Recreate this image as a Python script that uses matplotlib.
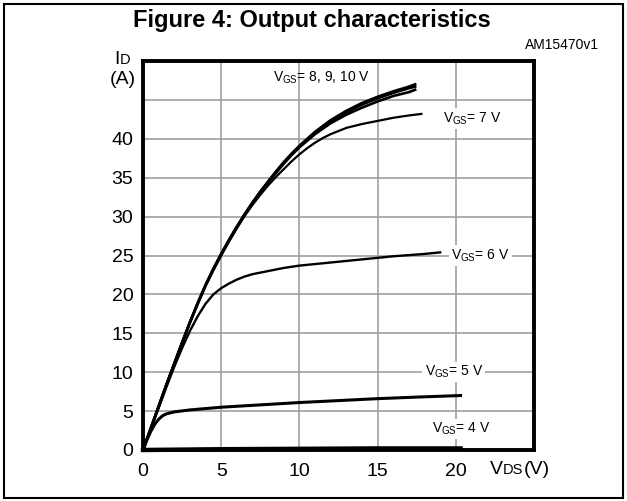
import matplotlib
matplotlib.use("Agg")
import matplotlib.pyplot as plt
from matplotlib.patches import Rectangle
from matplotlib.offsetbox import TextArea, HPacker, AnnotationBbox

plt.rcParams['font.family'] = ['Liberation Sans', 'DejaVu Sans']
plt.rcParams['mathtext.fontset'] = 'custom'
plt.rcParams['mathtext.rm'] = 'Liberation Sans'
plt.rcParams['mathtext.it'] = 'Liberation Sans'

# ---- data ----
vds_hi = [0, 0.5, 1, 1.5, 2, 2.5, 3, 3.5, 4, 4.5, 5, 5.5, 6, 6.5, 7, 7.5, 8, 8.5, 9, 9.5, 10,
          11, 12, 13, 14, 15, 16, 17, 17.4]
id_vgs10 = [0, 2.8, 5.6, 8.4, 11.1, 13.8, 16.4, 18.9, 21.2, 23.3, 25.2, 27.0, 28.7, 30.3, 31.8,
            33.2, 34.5, 35.8, 37.0, 38.1, 39.1, 40.9, 42.4, 43.6, 44.6, 45.4, 46.1, 46.7, 47.0]
id_vgs9 = [0, 2.8, 5.6, 8.4, 11.1, 13.8, 16.4, 18.9, 21.2, 23.3, 25.2, 27.0, 28.7, 30.3, 31.8,
           33.2, 34.5, 35.7, 36.9, 38.0, 39.0, 40.8, 42.2, 43.4, 44.4, 45.2, 45.9, 46.5, 46.7]
id_vgs8 = [0, 2.8, 5.6, 8.4, 11.1, 13.8, 16.4, 18.8, 21.1, 23.2, 25.1, 26.9, 28.6, 30.2, 31.7,
           33.1, 34.4, 35.6, 36.8, 37.9, 38.9, 40.6, 42.0, 43.1, 44.0, 44.8, 45.5, 46.0, 46.3]

vds_7 = [0, 0.5, 1, 1.5, 2, 2.5, 3, 3.5, 4, 4.5, 5, 5.5, 6, 6.5, 7, 7.5, 8, 8.5, 9, 9.5, 10,
         10.5, 11, 11.5, 12, 13, 14, 15, 16, 17, 17.8]
id_vgs7 = [0, 2.8, 5.6, 8.4, 11.1, 13.8, 16.4, 18.8, 21.1, 23.1, 25.0, 26.8, 28.5, 30.1, 31.5,
           32.8, 34.0, 35.1, 36.1, 37.1, 38.0, 38.8, 39.5, 40.1, 40.6, 41.4, 41.9, 42.3, 42.7,
           43.0, 43.2]

vds_6 = [0, 0.5, 1, 1.5, 2, 2.5, 3, 3.5, 4, 4.5, 5, 5.5, 6, 6.5, 7, 8, 9, 10, 12, 14, 16, 18, 19]
id_vgs6 = [0, 2.7, 5.4, 8.1, 10.7, 13.1, 15.3, 17.2, 18.8, 20.0, 20.8, 21.4, 21.9, 22.3, 22.6,
           23.0, 23.4, 23.7, 24.1, 24.5, 24.9, 25.2, 25.4]

vds_5 = [0, 0.25, 0.5, 0.75, 1, 1.25, 1.5, 2, 3, 5, 7.5, 10, 12.5, 15, 17.5, 20.3]
id_vgs5 = [0, 1.3, 2.4, 3.3, 3.95, 4.4, 4.65, 4.9, 5.15, 5.5, 5.8, 6.1, 6.35, 6.6, 6.8, 7.0]

vds_4 = [0, 5, 10, 15, 20.3]
id_vgs4 = [0, 0.1, 0.15, 0.2, 0.2]

xticks = [0, 5, 10, 15, 20]
yticks = [0, 5, 10, 15, 20, 25, 30, 35, 40, 45]
ytick_labels = ['0', '5', '10', '15', '20', '25', '30', '35', '40', '']

W, H = 627, 501
fig = plt.figure(figsize=(W / 100, H / 100), dpi=100)
ax = fig.add_axes([143 / W, 1 - 450 / H, (534 - 143) / W, (450 - 61) / H])

ax.set_xlim(0, 25)
ax.set_ylim(0, 50)
ax.set_xticks(xticks)
ax.set_yticks(yticks)
ax.set_yticklabels(ytick_labels)
ax.grid(True, color='#a0a0a0', linewidth=1.2)
ax.set_axisbelow(True)
ax.tick_params(length=0, labelsize=14, pad=9)
ax.tick_params(axis='y', pad=7)
for s in ax.spines.values():
    s.set_linewidth(2.8)
    s.set_color('black')
    s.set_zorder(3)

ax.plot(vds_hi, id_vgs10, color='black', lw=1.9)
ax.plot(vds_hi, id_vgs9, color='black', lw=1.9)
ax.plot(vds_hi, id_vgs8, color='black', lw=1.9)
ax.plot(vds_7, id_vgs7, color='black', lw=1.6)
ax.plot(vds_6, id_vgs6, color='black', lw=1.7)
ax.plot(vds_5, id_vgs5, color='black', lw=2.2)
ax.plot(vds_4, id_vgs4, color='black', lw=3.2, clip_on=False, zorder=4)

bbox_w = dict(facecolor='white', edgecolor='none', pad=1.5)
lab = dict(fontsize=10, va='center', ha='left')
ax.text(8.3, 47.8, r'V$_{\rm GS}$= 8, 9, 10 V', **lab)
ax.text(19.2, 42.6, r'V$_{\rm GS}$= 7 V', bbox=bbox_w, **lab)
ax.text(19.7, 25.0, r'V$_{\rm GS}$= 6 V', bbox=bbox_w, **lab)
ax.text(18.0, 10.0, r'V$_{\rm GS}$= 5 V', bbox=bbox_w, **lab)
ax.text(18.5, 2.7, r'V$_{\rm GS}$= 4 V', bbox=bbox_w, **lab)

# axis labels built from pieces (small-caps style subscripts)
def compound(parts):
    areas = [TextArea(t, textprops=dict(fontsize=sz, color='black')) for t, sz in parts]
    return HPacker(children=areas, align='baseline', pad=0, sep=0)

vds_lab = compound([('V', 14), ('DS', 10.5), ('(V)', 14)])
ab = AnnotationBbox(vds_lab, (520 / W, 1 - 470 / H), xycoords='figure fraction',
                    frameon=False, annotation_clip=False, box_alignment=(0.5, 0.5))
fig.add_artist(ab)

id_lab = compound([('I', 14), ('D', 10.5)])
ab2 = AnnotationBbox(id_lab, (122 / W, 1 - 60 / H), xycoords='figure fraction',
                     frameon=False, annotation_clip=False, box_alignment=(0.5, 0.5))
fig.add_artist(ab2)
fig.text(123 / W, 1 - 80 / H, '(A)', fontsize=14, ha='center', va='center')

fig.text(312 / W, 1 - 21 / H, 'Figure 4: Output characteristics', fontsize=17,
         fontweight='bold', ha='center', va='center')
fig.text(562 / W, 1 - 45 / H, 'AM15470v1', fontsize=10, ha='center', va='center')

fig.add_artist(Rectangle((4 / W, 3 / H), (W - 8) / W, (H - 7) / H, transform=fig.transFigure,
                         fill=False, edgecolor='black', linewidth=1.5))

fig.savefig('out.png', dpi=100)
